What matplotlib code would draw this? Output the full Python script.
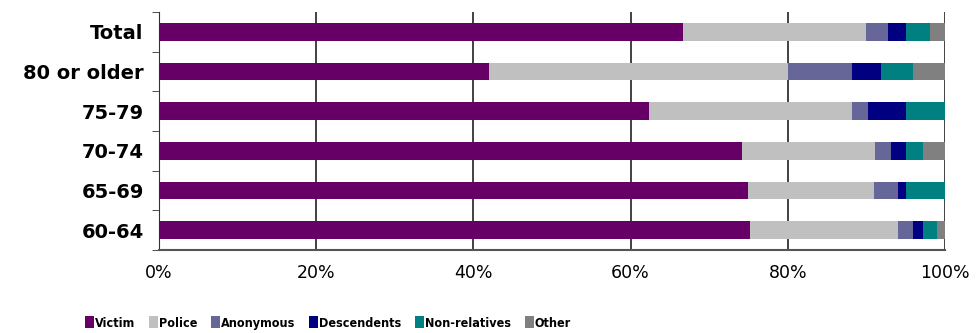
import numpy as np
import matplotlib.pyplot as plt
from matplotlib.patches import Patch

# categories listed top to bottom as in the chart
grupos = ['Total', '80 or older', '75-79', '70-74', '65-69', '60-64']
series = ['Victim', 'Police', 'Anonymous', 'Descendents', 'Non-relatives', 'Other']

victim = [66.7, 42.0, 62.3, 74.2, 74.9, 75.2]
police = [23.2, 38.0, 25.9, 16.9, 16.1, 18.8]
anonymous = [2.9, 8.2, 2.0, 2.0, 3.0, 1.9]
descendents = [2.2, 3.7, 4.8, 1.9, 1.0, 1.3]
non_relatives = [3.1, 4.0, 5.0, 2.2, 5.0, 1.8]
other = [1.9, 4.1, 0.0, 2.8, 0.0, 1.0]

cores = ['#660066', '#C0C0C0', '#666699', '#000080', '#008080', '#808080']
valores = [victim, police, anonymous, descendents, non_relatives, other]

fig = plt.figure(figsize=(9.79, 3.33), dpi=100)
ax = fig.add_axes([0.1624, 0.249, 0.8029, 0.715])

y = np.arange(len(grupos))[::-1]
esquerda = np.zeros(len(grupos))
for nome, vals, cor in zip(series, valores, cores):
    vals = np.array(vals)
    ax.barh(y, vals, left=esquerda, height=0.45, color=cor, label=nome, zorder=3)
    esquerda += vals

ax.set_xlim(0, 100)
ax.set_ylim(-0.5, len(grupos) - 0.5)
ax.set_xticks(np.arange(0, 101, 20))
ax.set_xticklabels([f'{v}%' for v in range(0, 101, 20)], fontsize=12.5)
ax.set_yticks(y)
ax.set_yticklabels(grupos, fontsize=14, fontweight='bold')
ax.set_yticks(np.arange(-0.5, len(grupos), 1), minor=True)
ax.tick_params(axis='y', which='major', length=0, pad=11)
ax.tick_params(axis='y', which='minor', length=5, color='#333333', direction='out')
ax.tick_params(axis='x', length=0, pad=10)

ax.grid(axis='x', color='#333333', linewidth=1.3, zorder=0)
for lado in ['top', 'right']:
    ax.spines[lado].set_visible(False)
ax.spines['left'].set_color('#333333')
ax.spines['bottom'].set_color('#555555')
ax.spines['bottom'].set_linewidth(1.5)

handles = [Patch(facecolor=c, label=s) for s, c in zip(series, cores)]
fig.legend(handles=handles, loc='center', bbox_to_anchor=(0.335, 0.03), ncol=6,
           frameon=False, handlelength=0.7, handleheight=1.1, handletextpad=0.1,
           columnspacing=1.1, prop={'family': 'DejaVu Sans', 'stretch': 'condensed',
                                    'weight': 'bold', 'size': 9})

fig.savefig('out.png', dpi=100)
